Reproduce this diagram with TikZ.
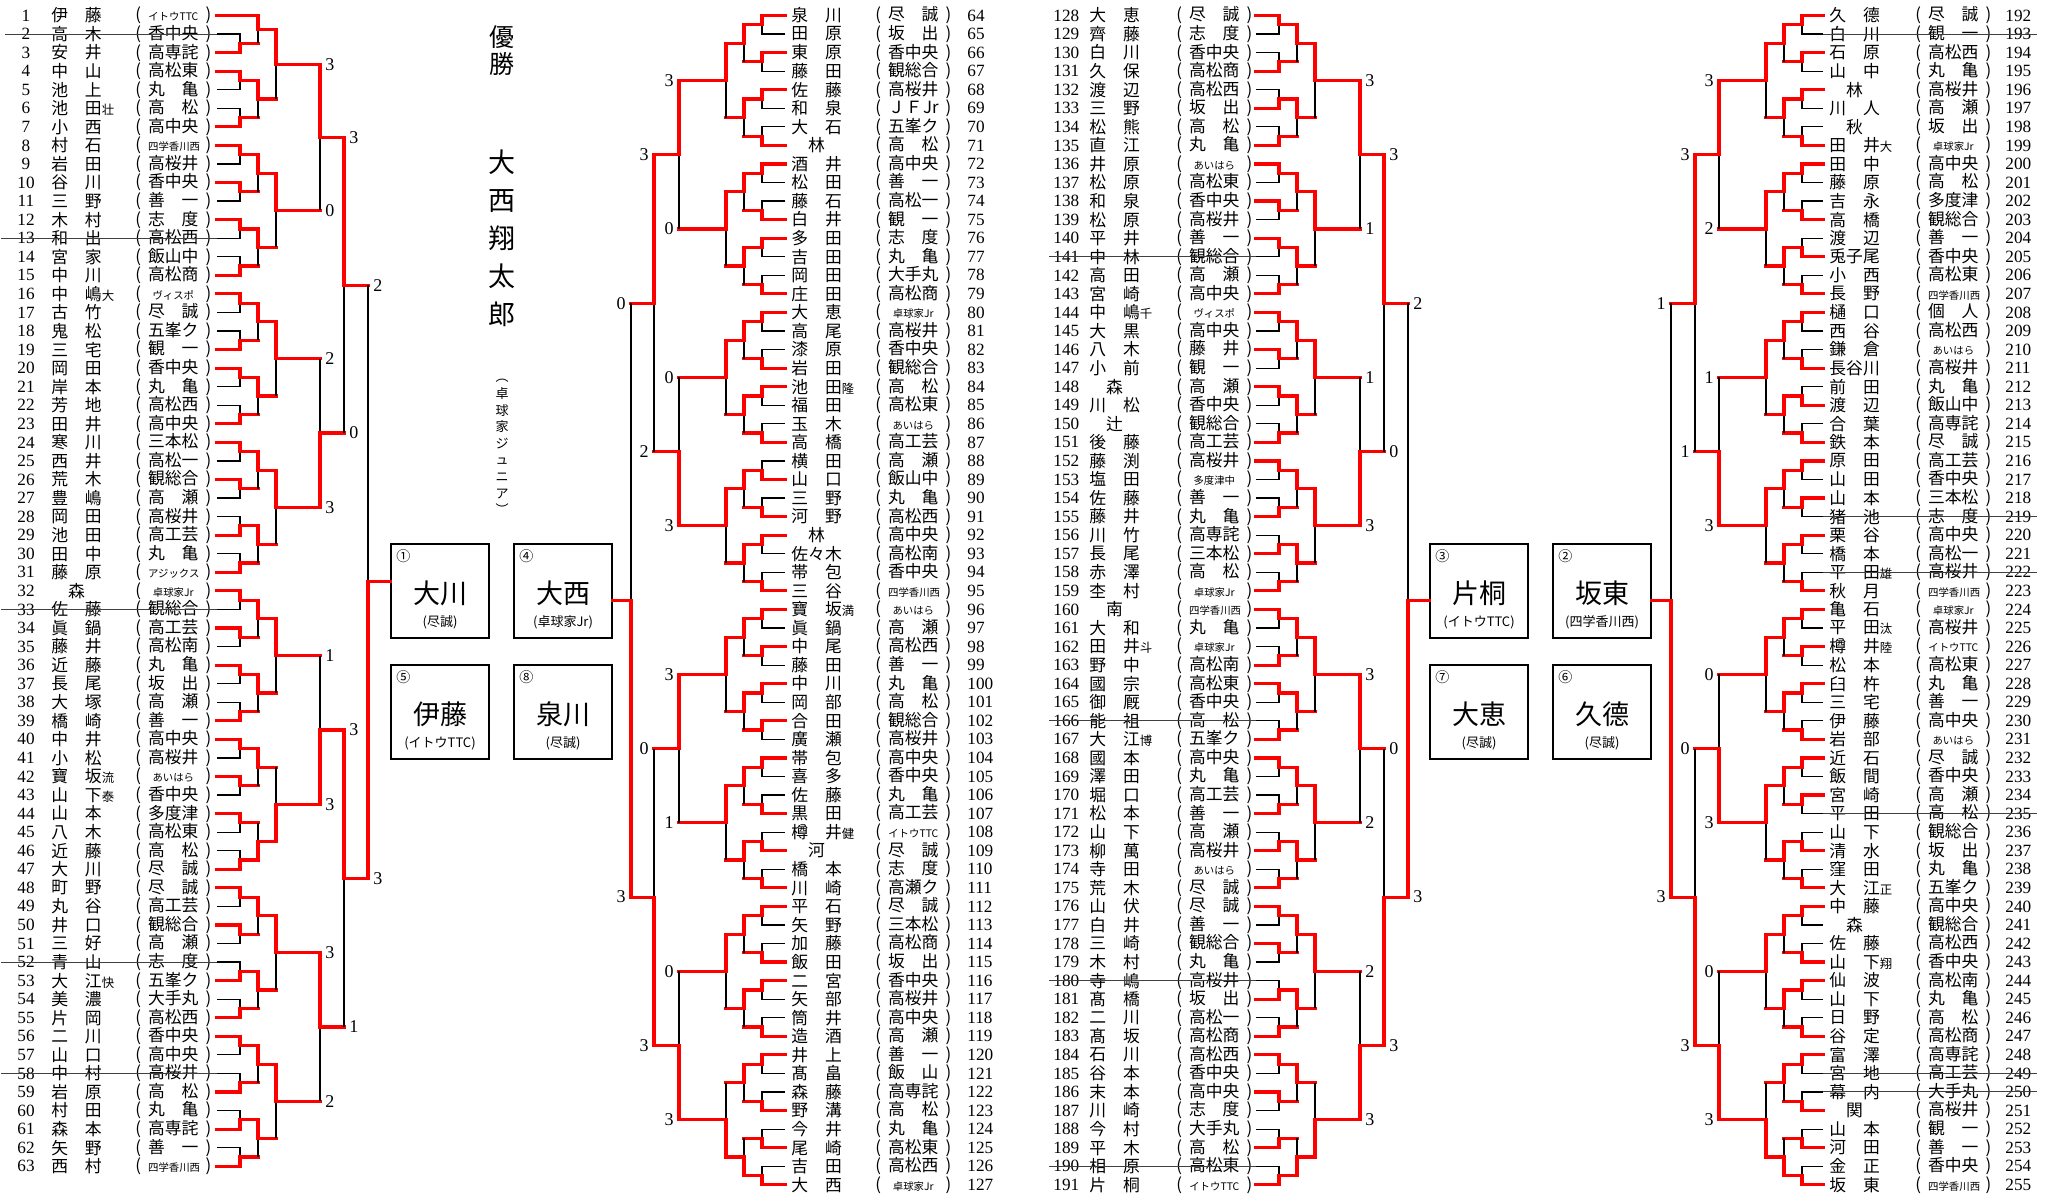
\documentclass[tikz,border=0pt]{standalone}
\usepackage{fontspec}
\usepackage{xstring}
\setmainfont{Liberation Serif}
\newfontfamily\jpfont{Noto Sans CJK JP}
\usetikzlibrary{calc}

\definecolor{bkred}{HTML}{FF0000}
\newcommand{\jsp}{\hfill}
\newcommand{\smc}{\fontsize{5.2}{6}\selectfont}
\newcommand{\sfx}[1]{\rlap{\fontsize{6.2}{7}\selectfont #1}}
\newcommand{\nmbox}[1]{\makebox[3em][s]{#1}}
\newcommand{\clbox}[1]{(\hspace{0.42em}\makebox[3em][s]{#1}\hspace{0.42em})}

\tikzset{
  bkloss/.style={draw=black, line width=0.6pt},
  bkwin/.style={draw=bkred, line width=1.6pt, line cap=rect},
  bkstrike/.style={draw=black!75, line width=0.5pt},
  bknum/.style={font=\fontsize{8.6}{9}\selectfont, inner sep=0pt},
  bkname/.style={font=\jpfont\fontsize{8.4}{9}\selectfont, inner sep=0pt, anchor=west},
  bkscore/.style={font=\fontsize{9}{9}\selectfont, inner sep=0.5pt},
  seedbox/.style={draw=black, line width=0.6pt, minimum width=49pt, minimum height=47pt, inner sep=0pt},
  seedmark/.style={font=\jpfont\fontsize{7}{7}\selectfont, inner sep=0pt},
  seedname/.style={font=\jpfont\fontsize{13.5}{14}\selectfont, inner sep=0pt},
  seedclub/.style={font=\jpfont\fontsize{6.5}{7}\selectfont, inner sep=0pt},
  vtext/.style={align=center, inner sep=0pt},
}

% leaf x, then vertical x of rounds 1..6 (px)
\def\xvA{{217,240,258,276,320,344,368}}
\def\xvB{{785,762,744,726,679,654,631}}
\def\xvC{{1256,1279,1297,1315,1360,1384,1408}}
\def\xvD{{1823,1802,1784,1766,1719,1695,1671}}
\def\offA{-1}\def\offB{0}\def\offC{0}\def\offD{0}
% winners, rounds 1..6 (0 = upper, 1 = lower)
\def\winA{110100010101001100010001001101110000000000010000000001000110001}
\def\winB{000101010101110100000111010101110000000000000001000000010101011}
\def\winC{011100010001011101010111001100110000000000000001000000010101011}
\def\winD{000101110111000100010011010101110000000000000001000000010111011}
% scores after rounds 3, 4, 5
\def\scA{30231332303123}
\def\scB{30033103320303}
\def\scC{31133223300323}
\def\scD{32130303310313}

\newcommand{\bkmatch}[3]{%
  \ifnum\bkw=0
    \ifnum\r=1 \draw[bkloss] (#2) -- (#2 -| #3) -- (#3);
    \else \draw[bkwin] (#2) -- (#2 -| #3); \draw[bkloss] (#2 -| #3) -- (#3); \fi
    \draw[bkwin] (#1) -- (#1 -| #3) -- (#3);
  \else
    \ifnum\r=1 \draw[bkloss] (#1) -- (#1 -| #3) -- (#3);
    \else \draw[bkwin] (#1) -- (#1 -| #3); \draw[bkloss] (#1 -| #3) -- (#3); \fi
    \draw[bkwin] (#2) -- (#2 -| #3) -- (#3);
  \fi}

\newcommand{\drawbracket}[4]{%
  \edef\bkxv{\csname xv#1\endcsname}%
  \edef\bkoff{\csname off#1\endcsname}%
  \edef\bkwins{\csname win#1\endcsname}%
  \edef\bkscs{\csname sc#1\endcsname}%
  \foreach \L in {0,...,63}{%
    \pgfmathsetmacro\bkx{\bkxv[0]*0.5}%
    \pgfmathsetmacro\bky{-(15.5+max(\L+(\bkoff),0)*18.56)*0.5}%
    \coordinate (#1-0-\L) at (\bkx pt,\bky pt);
  }%
  \foreach \r in {1,...,6}{%
    \pgfmathtruncatemacro\bkn{64/(2^\r)-1}%
    \pgfmathtruncatemacro\bkrp{\r-1}%
    \pgfmathtruncatemacro\bkofs{64-64/(2^(\r-1))}%
    \pgfmathsetmacro\bkx{\bkxv[\r]*0.5}%
    \foreach \m in {0,...,\bkn}{%
      \pgfmathtruncatemacro\bkma{2*\m}%
      \pgfmathtruncatemacro\bkmb{2*\m+1}%
      \pgfmathtruncatemacro\bkpos{\bkofs+\m+1}%
      \StrChar{\bkwins}{\bkpos}[\bkw]%
      \path let \p1=($(#1-\bkrp-\bkma)!0.5!(#1-\bkrp-\bkmb)$) in
        coordinate (#1-\r-\m) at (\bkx pt,\y1);
      \bkmatch{#1-\bkrp-\bkma}{#1-\bkrp-\bkmb}{#1-\r-\m}
    }%
  }%
  \draw[bkwin] (#1-6-0) -- (#1-6-0 -| #4);
  \foreach \r/\bkk in {3/0,4/8,5/12}{%
    \pgfmathtruncatemacro\bkn{64/(2^\r)-1}%
    \pgfmathtruncatemacro\bkrn{\r+1}%
    \foreach \m in {0,...,\bkn}{%
      \pgfmathtruncatemacro\bkpos{\bkk+\m+1}%
      \StrChar{\bkscs}{\bkpos}[\bks]%
      \node[bkscore, anchor=#2, xshift=#3] at (#1-\r-\m -| #1-\bkrn-0) {\bks};
    }%
  }%
}

\newcommand{\seedcard}[5]{%
  \node[seedbox] (#1) at (#2) {};
  \node[seedmark] (#1m) at ([shift={(6.5pt,-6.5pt)}]#1.north west) {#3};
  \node[seedname] (#1n) at ([yshift=-1pt]#1.center) {#4};
  \node[seedclub] (#1c) at ([yshift=-15.5pt]#1.center) {#5};
}

\begin{document}
\begin{tikzpicture}[x=0.5pt, y=-0.5pt]
\useasboundingbox (0,0) rectangle (2056,1197);

\foreach \n/\nm/\cl in {
1/伊\jsp 藤/\jsp\smc イトウTTC\jsp, 2/高\jsp 木/香中央, 3/安\jsp 井/高専詫, 4/中\jsp 山/高松東,
5/池\jsp 上/丸\jsp 亀, 6/池\jsp 田\sfx{壮}/高\jsp 松, 7/小\jsp 西/高中央, 8/村\jsp 石/\jsp\smc 四学香川西\jsp,
9/岩\jsp 田/高桜井, 10/谷\jsp 川/香中央, 11/三\jsp 野/善\jsp 一, 12/木\jsp 村/志\jsp 度,
13/和\jsp 出/高松西, 14/宮\jsp 家/飯山中, 15/中\jsp 川/高松商, 16/中\jsp 嶋\sfx{大}/\jsp\smc ヴィスポ\jsp,
17/古\jsp 竹/尽\jsp 誠, 18/鬼\jsp 松/五峯ク, 19/三\jsp 宅/観\jsp 一, 20/岡\jsp 田/香中央,
21/岸\jsp 本/丸\jsp 亀, 22/芳\jsp 地/高松西, 23/田\jsp 井/高中央, 24/寒\jsp 川/三本松,
25/西\jsp 井/高松一, 26/荒\jsp 木/観総合, 27/豊\jsp 嶋/高\jsp 瀬, 28/岡\jsp 田/高桜井,
29/池\jsp 田/高工芸, 30/田\jsp 中/丸\jsp 亀, 31/藤\jsp 原/\jsp\smc アジックス\jsp, 32/\jsp 森\jsp/\jsp\smc 卓球家Jr\jsp,
33/佐\jsp 藤/観総合, 34/眞\jsp 鍋/高工芸, 35/藤\jsp 井/高松南, 36/近\jsp 藤/丸\jsp 亀,
37/長\jsp 尾/坂\jsp 出, 38/大\jsp 塚/高\jsp 瀬, 39/橋\jsp 崎/善\jsp 一, 40/中\jsp 井/高中央,
41/小\jsp 松/高桜井, 42/寶\jsp 坂\sfx{流}/\jsp\smc あいはら\jsp, 43/山\jsp 下\sfx{泰}/香中央, 44/山\jsp 本/多度津,
45/八\jsp 木/高松東, 46/近\jsp 藤/高\jsp 松, 47/大\jsp 川/尽\jsp 誠, 48/町\jsp 野/尽\jsp 誠,
49/丸\jsp 谷/高工芸, 50/井\jsp 口/観総合, 51/三\jsp 好/高\jsp 瀬, 52/青\jsp 山/志\jsp 度,
53/大\jsp 江\sfx{快}/五峯ク, 54/美\jsp 濃/大手丸, 55/片\jsp 岡/高松西, 56/二\jsp 川/香中央,
57/山\jsp 口/高中央, 58/中\jsp 村/高桜井, 59/岩\jsp 原/高\jsp 松, 60/村\jsp 田/丸\jsp 亀,
61/森\jsp 本/高専詫, 62/矢\jsp 野/善\jsp 一, 63/西\jsp 村/\jsp\smc 四学香川西\jsp}{
  \pgfmathsetmacro\yr{15.5+(\n-1)*18.56}
  \node[bknum] (num\n) at (26,\yr) {\n};
  \node[bkname] (name\n) at (51,\yr) {\nmbox{\nm}};
  \node[bkname] (club\n) at (135,\yr) {\clbox{\cl}};
}

\foreach \n/\nm/\cl in {
64/泉\jsp 川/尽\jsp 誠, 65/田\jsp 原/坂\jsp 出, 66/東\jsp 原/香中央, 67/藤\jsp 田/観総合,
68/佐\jsp 藤/高桜井, 69/和\jsp 泉/Ｊ\jsp Ｆ\jsp Jr, 70/大\jsp 石/五峯ク, 71/\jsp 林\jsp/高\jsp 松,
72/酒\jsp 井/高中央, 73/松\jsp 田/善\jsp 一, 74/藤\jsp 石/高松一, 75/白\jsp 井/観\jsp 一,
76/多\jsp 田/志\jsp 度, 77/吉\jsp 田/丸\jsp 亀, 78/岡\jsp 田/大手丸, 79/庄\jsp 田/高松商,
80/大\jsp 恵/\jsp\smc 卓球家Jr\jsp, 81/高\jsp 尾/高桜井, 82/漆\jsp 原/香中央, 83/岩\jsp 田/観総合,
84/池\jsp 田\sfx{隆}/高\jsp 松, 85/福\jsp 田/高松東, 86/玉\jsp 木/\jsp\smc あいはら\jsp, 87/高\jsp 橋/高工芸,
88/横\jsp 田/高\jsp 瀬, 89/山\jsp 口/飯山中, 90/三\jsp 野/丸\jsp 亀, 91/河\jsp 野/高松西,
92/\jsp 林\jsp/高中央, 93/佐々木/高松南, 94/帯\jsp 包/香中央, 95/三\jsp 谷/\jsp\smc 四学香川西\jsp,
96/寶\jsp 坂\sfx{満}/\jsp\smc あいはら\jsp, 97/眞\jsp 鍋/高\jsp 瀬, 98/中\jsp 尾/高松西, 99/藤\jsp 田/善\jsp 一,
100/中\jsp 川/丸\jsp 亀, 101/岡\jsp 部/高\jsp 松, 102/合\jsp 田/観総合, 103/廣\jsp 瀬/高桜井,
104/帯\jsp 包/高中央, 105/喜\jsp 多/香中央, 106/佐\jsp 藤/丸\jsp 亀, 107/黒\jsp 田/高工芸,
108/樽\jsp 井\sfx{健}/\jsp\smc イトウTTC\jsp, 109/\jsp 河\jsp/尽\jsp 誠, 110/橋\jsp 本/志\jsp 度, 111/川\jsp 崎/高瀬ク,
112/平\jsp 石/尽\jsp 誠, 113/矢\jsp 野/三本松, 114/加\jsp 藤/高松商, 115/飯\jsp 田/坂\jsp 出,
116/二\jsp 宮/香中央, 117/矢\jsp 部/高桜井, 118/筒\jsp 井/高中央, 119/造\jsp 酒/高\jsp 瀬,
120/井\jsp 上/善\jsp 一, 121/髙\jsp 畠/飯\jsp 山, 122/森\jsp 藤/高専詫, 123/野\jsp 溝/高\jsp 松,
124/今\jsp 井/丸\jsp 亀, 125/尾\jsp 崎/高松東, 126/吉\jsp 田/高松西, 127/大\jsp 西/\jsp\smc 卓球家Jr\jsp}{
  \pgfmathsetmacro\yr{15.5+(\n-64)*18.56}
  \node[bknum, anchor=west] (num\n) at (967,\yr) {\n};
  \node[bkname] (name\n) at (791,\yr) {\nmbox{\nm}};
  \node[bkname] (club\n) at (875,\yr) {\clbox{\cl}};
}

\foreach \n/\nm/\cl in {
128/大\jsp 恵/尽\jsp 誠, 129/齊\jsp 藤/志\jsp 度, 130/白\jsp 川/香中央, 131/久\jsp 保/高松商,
132/渡\jsp 辺/高松西, 133/三\jsp 野/坂\jsp 出, 134/松\jsp 熊/高\jsp 松, 135/直\jsp 江/丸\jsp 亀,
136/井\jsp 原/\jsp\smc あいはら\jsp, 137/松\jsp 原/高松東, 138/和\jsp 泉/香中央, 139/松\jsp 原/高桜井,
140/平\jsp 井/善\jsp 一, 141/中\jsp 林/観総合, 142/高\jsp 田/高\jsp 瀬, 143/宮\jsp 崎/高中央,
144/中\jsp 嶋\sfx{千}/\jsp\smc ヴィスポ\jsp, 145/大\jsp 黒/高中央, 146/八\jsp 木/藤\jsp 井, 147/小\jsp 前/観\jsp 一,
148/\jsp 森\jsp/高\jsp 瀬, 149/川\jsp 松/香中央, 150/\jsp 辻\jsp/観総合, 151/後\jsp 藤/高工芸,
152/藤\jsp 渕/高桜井, 153/塩\jsp 田/\jsp\smc 多度津中\jsp, 154/佐\jsp 藤/善\jsp 一, 155/藤\jsp 井/丸\jsp 亀,
156/川\jsp 竹/高専詫, 157/長\jsp 尾/三本松, 158/赤\jsp 澤/高\jsp 松, 159/杢\jsp 村/\jsp\smc 卓球家Jr\jsp,
160/\jsp 南\jsp/\jsp\smc 四学香川西\jsp, 161/大\jsp 和/丸\jsp 亀, 162/田\jsp 井\sfx{斗}/\jsp\smc 卓球家Jr\jsp, 163/野\jsp 中/高松南,
164/國\jsp 宗/高松東, 165/御\jsp 厩/香中央, 166/能\jsp 祖/高\jsp 松, 167/大\jsp 江\sfx{博}/五峯ク,
168/國\jsp 本/高中央, 169/澤\jsp 田/丸\jsp 亀, 170/堀\jsp 口/高工芸, 171/松\jsp 本/善\jsp 一,
172/山\jsp 下/高\jsp 瀬, 173/柳\jsp 萬/高桜井, 174/寺\jsp 田/\jsp\smc あいはら\jsp, 175/荒\jsp 木/尽\jsp 誠,
176/山\jsp 伏/尽\jsp 誠, 177/白\jsp 井/善\jsp 一, 178/三\jsp 崎/観総合, 179/木\jsp 村/丸\jsp 亀,
180/寺\jsp 嶋/高桜井, 181/髙\jsp 橋/坂\jsp 出, 182/二\jsp 川/高松一, 183/髙\jsp 坂/高松商,
184/石\jsp 川/高松西, 185/谷\jsp 本/香中央, 186/末\jsp 本/高中央, 187/川\jsp 崎/志\jsp 度,
188/今\jsp 村/大手丸, 189/平\jsp 木/高\jsp 松, 190/相\jsp 原/高松東, 191/片\jsp 桐/\jsp\smc イトウTTC\jsp}{
  \pgfmathsetmacro\yr{15.5+(\n-128)*18.56}
  \node[bknum, anchor=west] (num\n) at (1053,\yr) {\n};
  \node[bkname] (name\n) at (1089,\yr) {\nmbox{\nm}};
  \node[bkname] (club\n) at (1176,\yr) {\clbox{\cl}};
}

\foreach \n/\nm/\cl in {
192/久\jsp 德/尽\jsp 誠, 193/白\jsp 川/観\jsp 一, 194/石\jsp 原/高松西, 195/山\jsp 中/丸\jsp 亀,
196/\jsp 林\jsp/高桜井, 197/川\jsp 人/高\jsp 瀬, 198/\jsp 秋\jsp/坂\jsp 出, 199/田\jsp 井\sfx{大}/\jsp\smc 卓球家Jr\jsp,
200/田\jsp 中/高中央, 201/藤\jsp 原/高\jsp 松, 202/吉\jsp 永/多度津, 203/高\jsp 橋/観総合,
204/渡\jsp 辺/善\jsp 一, 205/兎子尾/香中央, 206/小\jsp 西/高松東, 207/長\jsp 野/\jsp\smc 四学香川西\jsp,
208/樋\jsp 口/個\jsp 人, 209/西\jsp 谷/高松西, 210/鎌\jsp 倉/\jsp\smc あいはら\jsp, 211/長谷川/高桜井,
212/前\jsp 田/丸\jsp 亀, 213/渡\jsp 辺/飯山中, 214/合\jsp 葉/高専詫, 215/鉄\jsp 本/尽\jsp 誠,
216/原\jsp 田/高工芸, 217/山\jsp 田/香中央, 218/山\jsp 本/三本松, 219/猪\jsp 池/志\jsp 度,
220/栗\jsp 谷/高中央, 221/橋\jsp 本/高松一, 222/平\jsp 田\sfx{雄}/高桜井, 223/秋\jsp 月/\jsp\smc 四学香川西\jsp,
224/亀\jsp 石/\jsp\smc 卓球家Jr\jsp, 225/平\jsp 田\sfx{汰}/高桜井, 226/樽\jsp 井\sfx{陸}/\jsp\smc イトウTTC\jsp, 227/松\jsp 本/高松東,
228/臼\jsp 杵/丸\jsp 亀, 229/三\jsp 宅/善\jsp 一, 230/伊\jsp 藤/高中央, 231/岩\jsp 部/\jsp\smc あいはら\jsp,
232/近\jsp 石/尽\jsp 誠, 233/飯\jsp 間/香中央, 234/宮\jsp 崎/高\jsp 瀬, 235/平\jsp 田/高\jsp 松,
236/山\jsp 下/観総合, 237/清\jsp 水/坂\jsp 出, 238/窪\jsp 田/丸\jsp 亀, 239/大\jsp 江\sfx{正}/五峯ク,
240/中\jsp 藤/高中央, 241/\jsp 森\jsp/観総合, 242/佐\jsp 藤/高松西, 243/山\jsp 下\sfx{翔}/香中央,
244/仙\jsp 波/高松南, 245/山\jsp 下/丸\jsp 亀, 246/日\jsp 野/高\jsp 松, 247/谷\jsp 定/高松商,
248/富\jsp 澤/高専詫, 249/宮\jsp 地/高工芸, 250/幕\jsp 内/大手丸, 251/\jsp 関\jsp/高桜井,
252/山\jsp 本/観\jsp 一, 253/河\jsp 田/善\jsp 一, 254/金\jsp 正/香中央, 255/坂\jsp 東/\jsp\smc 四学香川西\jsp}{
  \pgfmathsetmacro\yr{15.5+(\n-192)*18.56}
  \node[bknum, anchor=west] (num\n) at (2005,\yr) {\n};
  \node[bkname] (name\n) at (1829,\yr) {\nmbox{\nm}};
  \node[bkname] (club\n) at (1915,\yr) {\clbox{\cl}};
}

\node[vtext, font=\jpfont\fontsize{12.5}{13.5}\selectfont] (champ) at (502,51) {優\\勝};
\node[vtext, font=\jpfont\fontsize{13.5}{19}\selectfont] (champname) at (502,238) {大\\西\\翔\\太\\郎};
\node[vtext, font=\jpfont\fontsize{6.5}{8.3}\selectfont] (champclub) at (502,447) {︵\\卓\\球\\家\\ジ\\ュ\\ニ\\ア\\︶};

\seedcard{seed1}{440,591}{①}{大川}{(尽誠)}
\seedcard{seed4}{563,591}{④}{大西}{(卓球家Jr)}
\seedcard{seed5}{440,712}{⑤}{伊藤}{(イトウTTC)}
\seedcard{seed8}{563,712}{⑧}{泉川}{(尽誠)}
\seedcard{seed3}{1479,591}{③}{片桐}{(イトウTTC)}
\seedcard{seed2}{1602,591}{②}{坂東}{(四学香川西)}
\seedcard{seed7}{1479,712}{⑦}{大恵}{(尽誠)}
\seedcard{seed6}{1602,712}{⑥}{久德}{(尽誠)}

\drawbracket{A}{west}{2pt}{seed1.west}
\drawbracket{B}{east}{-2pt}{seed4.east}
\drawbracket{C}{west}{2pt}{seed3.west}
\drawbracket{D}{east}{-2pt}{seed2.east}

\foreach \n in {2,13,33,52,58}
  \draw[bkstrike] ($(A-0-\n -| num\n.west)+(-8pt,0)$) -- (A-0-\n);
\foreach \n/\L in {141/13,166/38,180/52,190/62}
  \draw[bkstrike] ($(C-0-\L -| num\n.west)+(-2pt,0)$) -- (C-0-\L);
\foreach \n/\L in {193/1,219/27,222/30,235/43,249/57,250/58}
  \draw[bkstrike] (D-0-\L) -- ($(D-0-\L -| num\n.east)+(2.5pt,0)$);
\end{tikzpicture}
\end{document}
